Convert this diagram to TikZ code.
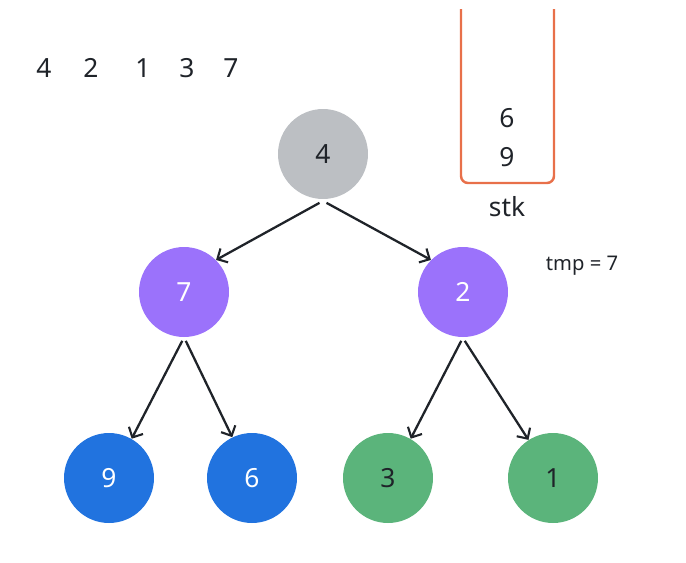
\documentclass[tikz,border=0pt]{standalone}
\usepackage{fontspec}
\setmainfont{Noto Sans}
\usetikzlibrary{arrows.meta}
\usetikzlibrary{positioning}

\definecolor{txtgray}{HTML}{1F2329}
\definecolor{rootgray}{HTML}{BCBFC3}
\definecolor{nodepurple}{HTML}{9B72FB}
\definecolor{nodeblue}{HTML}{2173DF}
\definecolor{nodegreen}{HTML}{5BB47B}
\definecolor{stkorange}{HTML}{E8704A}

\begin{document}
\begin{tikzpicture}[x=0.02cm,y=-0.02cm,
  every node/.style={text=txtgray,font=\fontsize{15}{18}\selectfont},
  vertex/.style={circle,minimum size=1.8cm,inner sep=0pt},
  edge/.style={line width=1.3pt,txtgray,-{Straight Barb[length=4.5pt,width=9pt,line width=1.2pt]}}]
\useasboundingbox (0,0) rectangle (686,562);

\node (in4) at (44,68) {4};
\node (in2) at (91,68) {2};
\node (in1) at (143,68) {1};
\node (in3) at (187,68) {3};
\node (in7) at (231,68) {7};

\node[vertex,fill=rootgray] (root) at (323,154) {4};
\node[vertex,fill=nodepurple,text=white] (left) at (184,292) {7};
\node[vertex,fill=nodepurple,text=white] (right) at (463,292) {2};
\node[vertex,fill=nodeblue,text=white] (ll) at (109,478) {9};
\node[vertex,fill=nodeblue,text=white] (lr) at (252,478) {6};
\node[vertex,fill=nodegreen] (rl) at (388,478) {3};
\node[vertex,fill=nodegreen] (rr) at (553,478) {1};

\draw[edge] ([xshift=-2pt,yshift=-2pt]root.south) -- (left.north east);
\draw[edge] ([xshift=2pt,yshift=-2pt]root.south) -- (right.north west);
\draw[edge] ([xshift=-1pt,yshift=-2pt]left.south) -- (ll.60);
\draw[edge] ([xshift=1pt,yshift=-2pt]left.south) -- (lr);
\draw[edge] ([xshift=-1pt,yshift=-2pt]right.south) -- (rl.60);
\draw[edge] ([xshift=1pt,yshift=-2pt]right.south) -- (rr);

\draw[stkorange,line width=1.4pt,rounded corners=4pt] (461,9) -- (461,183) -- (554,183) -- (554,9);
\node (s6) at (507,118) {6};
\node (s9) at (507,157) {9};
\node[font=\fontsize{15}{18}\selectfont] (stk) at (507,207) {stk};

\node[font=\fontsize{11.5}{14}\selectfont] (tmp) at (582,266) {tmp = 7};
\end{tikzpicture}
\end{document}
